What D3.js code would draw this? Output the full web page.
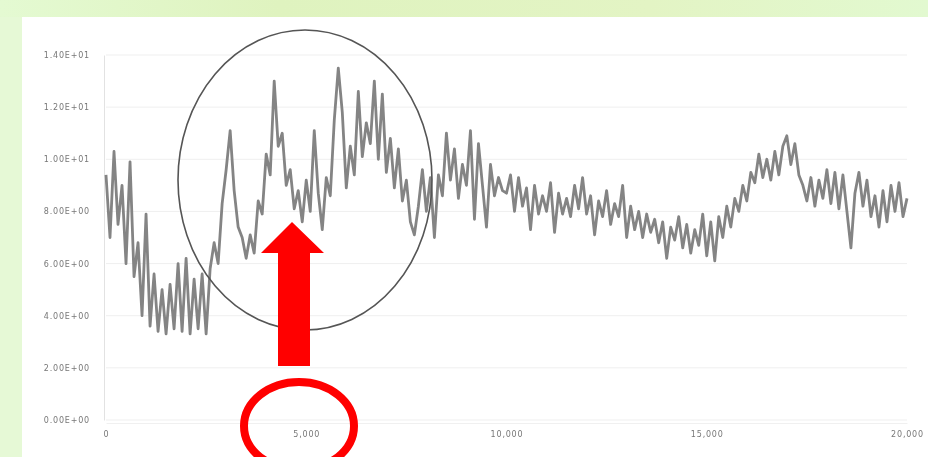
<!DOCTYPE html>
<html lang="en">
<head>
<meta charset="UTF-8">
<title>Series 0 - 20,000</title>
<script src="https://cdnjs.cloudflare.com/ajax/libs/d3/7.8.5/d3.min.js"></script>
<style>
  html, body { margin: 0; padding: 0; background: #e6f9d6; }
  svg { display: block; }
</style>
</head>
<body>
<div id="chart"></div>
<script>
    var width = 928;
    var height = 457;

    // x positions: one value every 100 units from 0 to 20,000
    var xStep = 100;
    var xTicks = [0, 5000, 10000, 15000, 20000];
    var xTickLabels = ["0", "5,000", "10,000", "15,000", "20,000"];
    var yTicks = [0, 2, 4, 6, 8, 10, 12, 14];
    var yTickLabels = ["0.00E+00", "2.00E+00", "4.00E+00", "6.00E+00",
                       "8.00E+00", "1.00E+01", "1.20E+01", "1.40E+01"];

    // values
    var values = [
        9.4, 7.0, 10.3, 7.5, 9.0, 6.0, 9.9, 5.5, 6.8, 4.0,
        7.9, 3.6, 5.6, 3.4, 5.0, 3.3, 5.2, 3.5, 6.0, 3.4,
        6.2, 3.3, 5.4, 3.5, 5.6, 3.3, 5.8, 6.8, 6.0, 8.3,
        9.6, 11.1, 8.8, 7.4, 7.0, 6.2, 7.1, 6.4, 8.4, 7.9,
        10.2, 9.4, 13.0, 10.5, 11.0, 9.0, 9.6, 8.1, 8.8, 7.6,
        9.2, 8.0, 11.1, 8.7, 7.3, 9.3, 8.6, 11.5, 13.5, 11.8,
        8.9, 10.5, 9.4, 12.6, 10.1, 11.4, 10.6, 13.0, 10.0, 12.5,
        9.5, 10.8, 8.9, 10.4, 8.4, 9.2, 7.6, 7.1, 8.2, 9.6,
        8.0, 9.3, 7.0, 9.4, 8.6, 11.0, 9.2, 10.4, 8.5, 9.8,
        9.0, 11.1, 7.7, 10.6, 9.0, 7.4, 9.8, 8.6, 9.3, 8.8,
        8.7, 9.4, 8.0, 9.3, 8.2, 8.9, 7.3, 9.0, 7.9, 8.6,
        8.0, 9.1, 7.2, 8.7, 7.9, 8.5, 7.8, 9.0, 8.1, 9.3,
        7.9, 8.6, 7.1, 8.4, 7.8, 8.8, 7.5, 8.3, 7.8, 9.0,
        7.0, 8.2, 7.3, 8.0, 7.0, 7.9, 7.2, 7.7, 6.8, 7.6,
        6.2, 7.4, 6.9, 7.8, 6.6, 7.5, 6.4, 7.3, 6.7, 7.9,
        6.3, 7.6, 6.1, 7.8, 7.0, 8.2, 7.4, 8.5, 8.0, 9.0,
        8.4, 9.5, 9.1, 10.2, 9.3, 10.0, 9.2, 10.3, 9.4, 10.5,
        10.9, 9.8, 10.6, 9.4, 9.0, 8.4, 9.3, 8.2, 9.2, 8.5,
        9.6, 8.3, 9.5, 8.1, 9.4, 8.0, 6.6, 8.7, 9.5, 8.2,
        9.2, 7.8, 8.6, 7.4, 8.8, 7.6, 9.0, 8.0, 9.1, 7.8,
        8.5
    ];

    var svg = d3.select("#chart")
        .append("svg")
        .attr("width", width)
        .attr("height", height);

    var defs = svg.append("defs");
    var grad = defs.append("linearGradient")
        .attr("id", "band")
        .attr("x1", "0%").attr("x2", "100%");
    grad.append("stop").attr("offset", "0%").attr("stop-color", "#e4fad2");
    grad.append("stop").attr("offset", "30%").attr("stop-color", "#dff3bf");
    grad.append("stop").attr("offset", "70%").attr("stop-color", "#e3f4c4");
    grad.append("stop").attr("offset", "100%").attr("stop-color", "#e2f9d0");

    defs.append("filter")
        .attr("id", "soft")
        .append("feGaussianBlur")
        .attr("stdDeviation", 0.6);

    // slide background
    svg.append("rect")
        .attr("width", width)
        .attr("height", height)
        .attr("fill", "#e6f9d6");
    svg.append("rect")
        .attr("width", width)
        .attr("height", 17)
        .attr("fill", "url(#band)");

    // chart panel
    svg.append("rect")
        .attr("x", 22)
        .attr("y", 17)
        .attr("width", width - 22)
        .attr("height", height - 17)
        .attr("fill", "#ffffff");

    var x = d3.scaleLinear().domain([0, 20000]).range([106, 907]);
    var y = d3.scaleLinear().domain([0, 14]).range([420, 55]);

    var g = svg.append("g").attr("filter", "url(#soft)");

    // faint gridlines
    g.append("g")
        .selectAll("line")
        .data(yTicks)
        .enter()
        .append("line")
        .attr("x1", x(0))
        .attr("x2", x(20000))
        .attr("y1", function(d) { return y(d); })
        .attr("y2", function(d) { return y(d); })
        .attr("stroke", "#efefef")
        .attr("stroke-width", 1);

    var yAxis = d3.axisLeft(y)
        .tickValues(yTicks)
        .tickSize(0)
        .tickPadding(14)
        .tickFormat(function(d, i) { return yTickLabels[i]; });

    var xAxis = d3.axisBottom(x)
        .tickValues(xTicks)
        .tickSize(0)
        .tickPadding(8)
        .tickFormat(function(d, i) { return xTickLabels[i]; });

    var ya = g.append("g")
        .attr("transform", "translate(" + (x(0) - 2) + ",0)")
        .call(yAxis);
    ya.select(".domain").attr("stroke", "#e2e2e2");

    var xa = g.append("g")
        .attr("transform", "translate(0," + (y(0) + 3) + ")")
        .call(xAxis);
    xa.select(".domain").attr("stroke", "#f0f0f0");

    g.selectAll(".tick text")
        .attr("fill", "#777")
        .attr("font-family", "DejaVu Sans, sans-serif")
        .attr("font-size", "8px")
        .attr("letter-spacing", "0.8px");

    var line = d3.line()
        .x(function(d, i) { return x(i * xStep); })
        .y(function(d) { return y(d); });

    g.append("path")
        .datum(values)
        .attr("d", line)
        .attr("fill", "none")
        .attr("stroke", "#848484")
        .attr("stroke-width", 2.8)
        .attr("stroke-linejoin", "round");

    // annotations
    svg.append("ellipse")
        .attr("cx", 305)
        .attr("cy", 180)
        .attr("rx", 127)
        .attr("ry", 150)
        .attr("fill", "none")
        .attr("stroke", "#555")
        .attr("stroke-width", 1.6);

    var arrow = [[292, 222], [324, 253], [310, 253], [310, 366],
                 [278, 366], [278, 253], [261, 253]];
    svg.append("path")
        .attr("d", d3.line()(arrow) + "Z")
        .attr("fill", "#ff0000");

    svg.append("ellipse")
        .attr("cx", 299)
        .attr("cy", 426)
        .attr("rx", 55)
        .attr("ry", 44)
        .attr("fill", "none")
        .attr("stroke", "#ff0000")
        .attr("stroke-width", 8);
</script>
</body>
</html>
